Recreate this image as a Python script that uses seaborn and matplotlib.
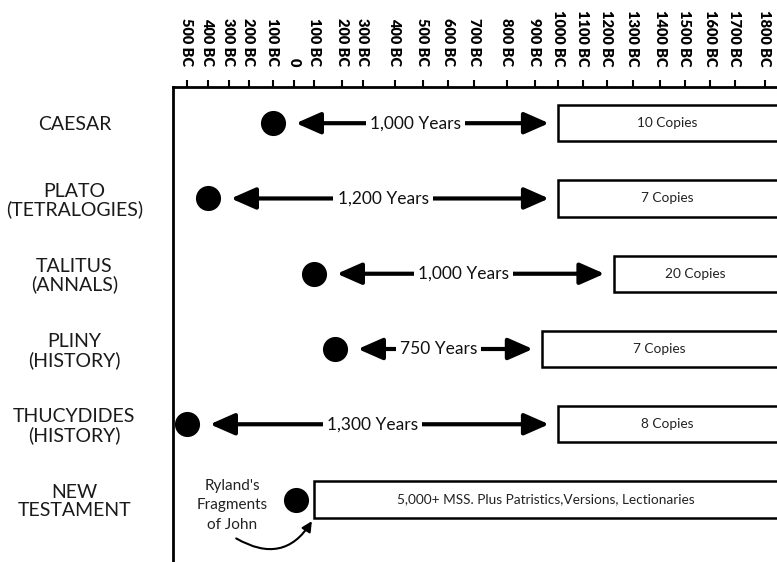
import numpy as np
import pandas as pd
import matplotlib
matplotlib.use("Agg")
import matplotlib.pyplot as plt
import seaborn as sns

# --- data ---
authors = ["CAESAR", "PLATO\n(TETRALOGIES)", "TALITUS\n(ANNALS)",
           "PLINY\n(HISTORY)", "THUCYDIDES\n(HISTORY)", "NEW\nTESTAMENT"]
written_year = [-100, -400, 100, 175, -500, 10]
earliest_copy = [1000, 1000, 1225, 930, 1000, 100]
gap_labels = ["1,000 Years", "1,200 Years", "1,000 Years", "750 Years", "1,300 Years", ""]
copy_labels = ["10 Copies", "7 Copies", "20 Copies", "7 Copies", "8 Copies",
               "5,000+ MSS. Plus Patristics,Versions, Lectionaries"]

tick_years = list(range(-500, 1801, 100))
tick_labels = ["500 BC", "400 BC", "300 BC", "200 BC", "100 BC", "0",
               "100 BC", "200 BC", "300 BC", "400 BC", "500 BC", "600 BC",
               "700 BC", "800 BC", "900 BC", "1000 BC", "1100 BC", "1200 BC",
               "1300 BC", "1400 BC", "1500 BC", "1600 BC", "1700 BC", "1800 BC"]

# the timeline in the picture is hand drawn, ticks are not evenly spaced
tick_px = [187, 208, 229, 249, 273, 294, 314, 342, 363, 395, 423, 448,
           474, 507, 535, 558, 583, 607, 633, 660, 685, 710, 735, 765]

df = pd.DataFrame({"author": authors, "written": written_year,
                   "copy": earliest_copy, "gap": gap_labels, "copies": copy_labels})
df["row"] = np.arange(len(df))

sns.set_theme(style="white")
plt.rcParams["font.family"] = ["Lato", "DejaVu Sans"]

scale_years = np.array([-600] + tick_years + [1900], dtype=float)
scale_px = np.array([166] + tick_px + [790], dtype=float)


def fwd(v):
    return np.interp(v, scale_years, scale_px)


def inv(p):
    return np.interp(p, scale_px, scale_years)


W, H = 777, 562
fig = plt.figure(figsize=(W / 100, H / 100), dpi=100)
ax = fig.add_axes([173 / W, 0, (W - 173) / W, (H - 87) / H])
ax.set_xscale("function", functions=(fwd, inv))
x_left, x_right = inv(173), inv(W)
ax.set_xlim(x_left, x_right)
ax.set_ylim(5.83, -0.481)

# boxes for the surviving copies
ax.barh(df["row"], 1900 - df["copy"], left=df["copy"], height=0.48,
        color="white", edgecolor="black", linewidth=1.8, zorder=2)

# date of writing
sns.scatterplot(data=df, x="written", y="row", s=280, color="black",
                edgecolor="black", legend=False, ax=ax, zorder=4, clip_on=False)

for _, r in df.iterrows():
    # text on the copies box, centred on the visible part
    cx = inv((fwd(r["copy"]) + W) / 2)
    ax.text(cx, r["row"], r["copies"], ha="center", va="center",
            fontsize=9.8, color="#222222", zorder=5)
    if r["gap"]:
        ax.annotate("", xy=(r["copy"], r["row"]), xytext=(r["written"], r["row"]),
                    arrowprops=dict(arrowstyle="<|-|>,head_length=0.75,head_width=0.33",
                                    lw=3, color="black", shrinkA=16.5, shrinkB=6.5,
                                    mutation_scale=20), zorder=3)
        mx = inv((fwd(r["written"]) + fwd(r["copy"])) / 2)
        ax.text(mx, r["row"], r["gap"], ha="center", va="center", fontsize=12.5,
                color="#111111", zorder=4,
                bbox=dict(facecolor="white", edgecolor="none", pad=3))

# Ryland's fragment note
nt = df.iloc[-1]
ax.annotate("Ryland's\nFragments\nof John", xy=(nt["written"], nt["row"]),
            xytext=(-46, -4), textcoords="offset points", ha="center", va="center",
            fontsize=11, linespacing=1.5, color="#222222")
ax.annotate("", xy=(nt["copy"], nt["row"] + 0.24), xytext=(-56, -15),
            textcoords="offset points",
            arrowprops=dict(arrowstyle="-|>,head_length=0.5,head_width=0.25",
                            lw=1.5, color="black", shrinkA=0, shrinkB=3,
                            connectionstyle="arc3,rad=0.5", mutation_scale=12))

# axes look
ax.xaxis.tick_top()
ax.set_xticks(tick_years, tick_labels, rotation=-90, fontweight="heavy", fontsize=10.5)
ax.tick_params(axis="x", length=5, width=1.5, pad=10, direction="out", colors="black")
ax.set_yticks(df["row"], df["author"], fontsize=14, color="#1a1a1a")
ax.tick_params(axis="y", length=0, pad=71)
for lbl in ax.get_yticklabels():
    lbl.set_horizontalalignment("center")
    lbl.set_multialignment("center")
    lbl.set_linespacing(1.05)
ax.set_xlabel("")
ax.set_ylabel("")
ax.grid(False)
for side in ["right", "bottom"]:
    ax.spines[side].set_visible(False)
for side in ["top", "left"]:
    ax.spines[side].set_color("black")
    ax.spines[side].set_linewidth(2)

fig.savefig("out.png", dpi=100)
